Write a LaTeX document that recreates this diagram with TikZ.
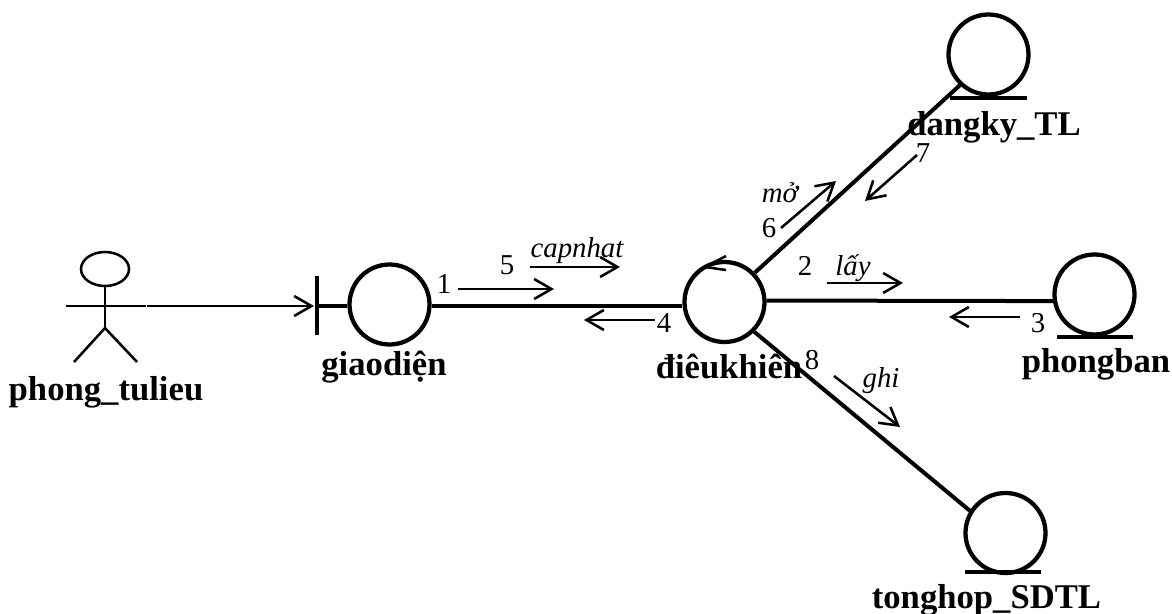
\documentclass[tikz,border=0pt]{standalone}
\usepackage{fontspec}
\setmainfont{Liberation Serif}
\usetikzlibrary{arrows.meta,shapes.geometric}
\tikzset{
 x=0.75pt,y=-0.75pt,
 bold label/.style={inner sep=0pt,font=\fontsize{26}{28}\selectfont\bfseries,anchor=base},
 num/.style={inner sep=0pt,font=\fontsize{21.6}{24}\selectfont,anchor=base},
 msg/.style={inner sep=0pt,font=\fontsize{21.6}{24}\selectfont\itshape,anchor=base},
 obj/.style={circle,draw,line width=3.2pt,minimum size=60pt,inner sep=0pt,fill=white},
 link/.style={line width=3pt},
 under/.style={line width=3.2pt},
 thin arrow/.style={line width=1.9pt,-{Straight Barb[length=13pt,width=15pt,line width=1.9pt]}},
 fig/.style={line width=1.9pt},
}
\begin{document}
\begin{tikzpicture}
\useasboundingbox (0,0) rectangle (1172,614);
\node[obj] (gi) at (389.5,304.5) {};
\node[obj] (dk) at (724.5,302) {};
\node[obj] (dl) at (988.5,54.5) {};
\node[obj] (pb) at (1094.5,294.5) {};
\node[obj] (th) at (1005.5,533) {};
\coordinate (u1a) at (950,97.7); \coordinate (u1b) at (1027,97.7);
\coordinate (u2a) at (1057,337); \coordinate (u2b) at (1133,337);
\coordinate (u3a) at (965,572); \coordinate (u3b) at (1041,572);
\draw[under] (u1a) -- (u1b);
\draw[under] (u2a) -- (u2b);
\draw[under] (u3a) -- (u3b);
% actor
\node[draw,ellipse,fig,minimum width=36pt,minimum height=25.5pt,inner sep=0pt] (head) at (105,269) {};
\coordinate (hip) at (105,328);
\coordinate (armL) at (66,306);
\coordinate (armR) at (146,306);
\coordinate (legL) at (74,362);
\coordinate (legR) at (137,362);
\draw[fig] (head) -- (hip);
\draw[fig] (armL) -- (armR);
\draw[fig] (legL) -- (hip) -- (legR);
% boundary
\coordinate (barT) at (317,276);
\coordinate (barB) at (317,335);
\coordinate (barM) at (317,306);
\coordinate (arrowEnd) at (314,306);
\coordinate (armS) at (147,306);
\draw[link] (barT) -- (barB);
\draw[link] (barM) -- (gi.west |- barM);
\draw[line width=2.2pt,-{Straight Barb[length=13pt,width=15pt,line width=1.9pt]}] (armS) -- (arrowEnd);
% links
\draw[link] (gi.east |- barM) -- (dk.west |- barM);
\draw[link] (dk.44) -- (dl.227);
\draw[link] (dk.2) -- (pb.189);
\draw[link] (dk.-45) -- (th.148);
% labels
\node[bold label] (l1) at (106,400.5) {phong\_tulieu};
\node[bold label] (l2) at (384,375) {giaodiện};
\node[bold label] (l3) at (729,378) {điêukhiên};
\node[bold label] (l4) at (994,135) {dangky\_TL};
\node[bold label] (l5) at (1096,372) {phongban};
\node[bold label] (l6) at (986.5,608) {tonghop\_SDTL};
% message arrows
\coordinate (a1s) at (458,289); \coordinate (a1e) at (554,289);
\draw[thin arrow] (a1s) -- (a1e);
\coordinate (a5s) at (530,267); \coordinate (a5e) at (620,267);
\draw[thin arrow] (a5s) -- (a5e);
\coordinate (a4s) at (655,320); \coordinate (a4e) at (584,320);
\draw[thin arrow] (a4s) -- (a4e);
\coordinate (a2s) at (827,283); \coordinate (a2e) at (903,283);
\draw[thin arrow] (a2s) -- (a2e);
\coordinate (a3s) at (1020,317); \coordinate (a3e) at (949,317);
\draw[thin arrow] (a3s) -- (a3e);
\coordinate (a6s) at (781,228); \coordinate (a6e) at (836,181);
\draw[thin arrow] (a6s) -- (a6e);
\coordinate (a7s) at (917,155); \coordinate (a7e) at (865,201);
\draw[thin arrow] (a7s) -- (a7e);
\coordinate (a8s) at (834,376); \coordinate (a8e) at (900,427);
\draw[thin arrow] (a8s) -- (a8e);
\coordinate (b1) at (726,256); \coordinate (b2) at (705,267); \coordinate (b3) at (726,270);
\draw[line width=1.9pt] (b1) -- (b2) -- (b3);
% texts
\node[num] (n1) at (444,293) {1};
\node[num] (n5) at (507,274) {5};
\node[msg] (m5) at (577,257) {capnhat};
\node[num] (n4) at (664,332) {4};
\node[num] (n2) at (805,275) {2};
\node[msg] (m2) at (853,275) {lấy};
\node[num] (n3) at (1038,332) {3};
\node[num] (n6) at (769,237) {6};
\node[msg] (m6) at (780,202) {mở};
\node[num] (n7) at (923,162) {7};
\node[num] (n8) at (812,369) {8};
\node[msg] (m8) at (881,387) {ghi};
\end{tikzpicture}
\end{document}
